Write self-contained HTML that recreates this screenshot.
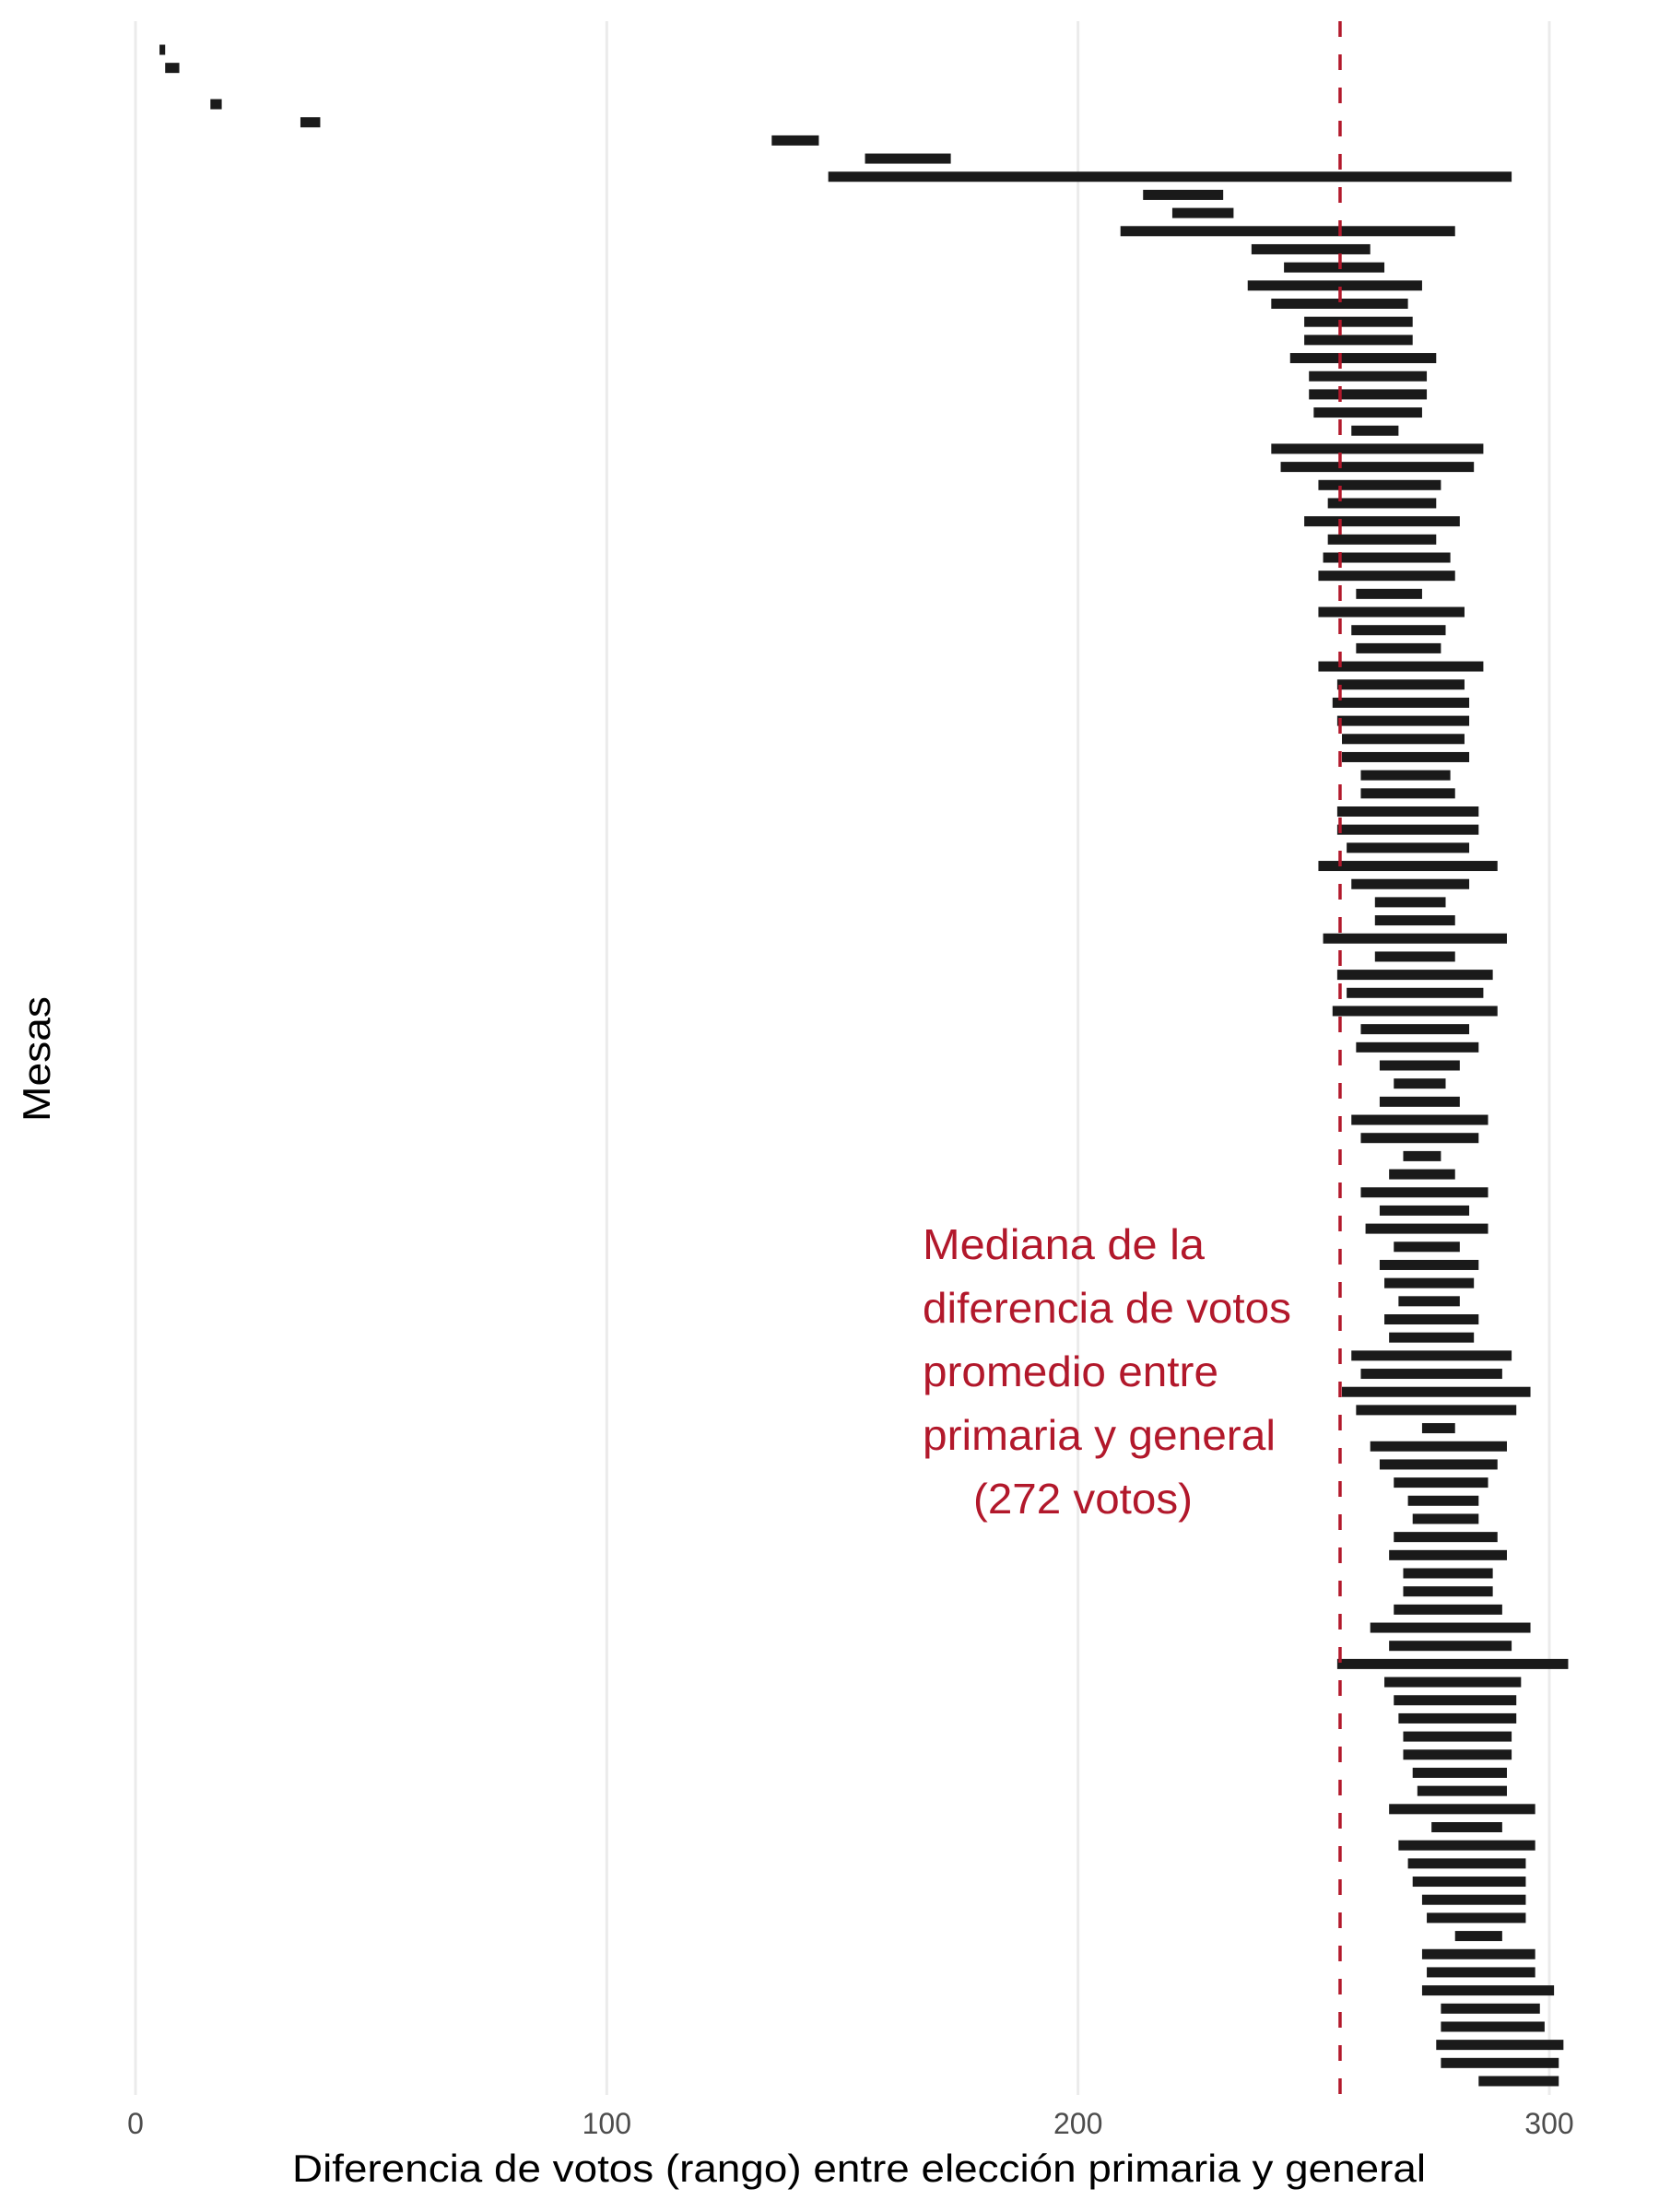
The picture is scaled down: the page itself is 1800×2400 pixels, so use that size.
<!DOCTYPE html>
<html><head><meta charset="utf-8"><style>
html,body{margin:0;padding:0;background:#fff}
svg{display:block}
text{font-family:"Liberation Sans",Arial,sans-serif}
</style></head><body>
<svg id="chart" width="1800" height="2400" viewBox="0 0 1800 2400">
<g id="grid"></g>
<g id="bars"></g>
<g id="ticks"></g>
<line id="median" stroke="#b2182b" stroke-width="3.5" stroke-dasharray="17 19"></line>
<g fill="#b2182b" font-size="46">
<text x="1001" y="1366" textLength="306" lengthAdjust="spacingAndGlyphs">Mediana de la</text>
<text x="1001" y="1435" textLength="400" lengthAdjust="spacingAndGlyphs">diferencia de votos</text>
<text x="1001" y="1504" textLength="321" lengthAdjust="spacingAndGlyphs">promedio entre</text>
<text x="1001" y="1573" textLength="383" lengthAdjust="spacingAndGlyphs">primaria y general</text>
<text x="1056" y="1642" textLength="238" lengthAdjust="spacingAndGlyphs">(272 votos)</text>
</g>
<text x="932" y="2367" text-anchor="middle" font-size="42" textLength="1230" lengthAdjust="spacingAndGlyphs" fill="#000">Diferencia de votos (rango) entre elección primaria y general</text>
<text transform="translate(54,1149) rotate(-90)" text-anchor="middle" font-size="42" textLength="136" lengthAdjust="spacingAndGlyphs" fill="#000">Mesas</text>
</svg>
<script>
const tickValues = [0, 100, 200, 300];
const tickLabels = ["0", "100", "200", "300"];
const medianValue = 255.6;
const mesaMin = [5.1,6.3,null,15.9,35,135,154.8,147,213.8,220,209,236.8,243.7,236,241,248,248,245,249,249,250,258,241,243,251,253,248,253,252,251,259,251,258,259,251,255,254,255,256,256,260,260,255,255,257,251,258,263,263,252,263,255,257,254,260,259,264,267,264,258,260,269,266,260,264,261,267,264,265,268,265,266,258,260,256,259,273,262,264,267,270,271,267,266,269,269,267,262,266,255,265,267,268,269,269,271,272,266,275,268,270,271,273,274,280,273,274,273,277,277,276,277,285];
const mesaMax = [6.3,9.3,null,18.3,39.2,145,173,292,230.8,233,280,262,265,273,270,271,271,276,274,274,273,268,286,284,277,276,281,276,279,280,273,282,278,277,286,282,283,283,282,283,279,280,285,285,283,289,283,278,280,291,280,288,286,289,283,285,281,278,281,287,285,277,280,287,283,287,281,285,284,281,285,284,292,290,296,293,280,291,289,287,285,285,289,291,288,288,290,296,292,304,294,293,293,292,292,291,291,297,290,297,295,295,295,295,290,297,297,301,298,299,303,302,302];

(function(){
const NS = "http://www.w3.org/2000/svg";
const xScale = v => 147 + (v - 0) * (1681 - 147) / 300;
const nRows = mesaMin.length;
const yScale = i => 54 + i * (2258 - 54) / (nRows - 1);
const plotTop = 23, plotBottom = 2273;

const grid = document.getElementById('grid');
const ticks = document.getElementById('ticks');
tickValues.forEach((v, i) => {
  const l = document.createElementNS(NS, 'line');
  
  
  l.setAttribute('x1', xScale(v)); l.setAttribute('x2', xScale(v));
  l.setAttribute('y1', plotTop); l.setAttribute('y2', plotBottom);
  l.setAttribute('stroke', '#ebebeb'); l.setAttribute('stroke-width', '3');
  grid.appendChild(l);
  const t = document.createElementNS(NS, 'text');
  
  
  t.setAttribute('x', xScale(v)); t.setAttribute('y', 2315);
  t.setAttribute('text-anchor', 'middle'); t.setAttribute('font-size', '32');
  t.setAttribute('fill', '#4d4d4d');
  t.textContent = tickLabels[i];
  ticks.appendChild(t);
});

const bars = document.getElementById('bars');
for (let i = 0; i < nRows; i++) {
  if (mesaMin[i] == null) continue;
  const r = document.createElementNS(NS, 'rect');
  
  
  const x0 = xScale(mesaMin[i]), x1 = xScale(mesaMax[i]);
  r.setAttribute('x', x0); r.setAttribute('width', Math.max(2, x1 - x0));
  r.setAttribute('y', yScale(i) - 5.5); r.setAttribute('height', 11);
  r.setAttribute('fill', '#1a1a1a');
  bars.appendChild(r);
}

const m = document.getElementById('median');
m.setAttribute('x1', xScale(medianValue)); m.setAttribute('x2', xScale(medianValue));
m.setAttribute('y1', plotTop); m.setAttribute('y2', plotBottom);
})();
</script>
</body></html>
